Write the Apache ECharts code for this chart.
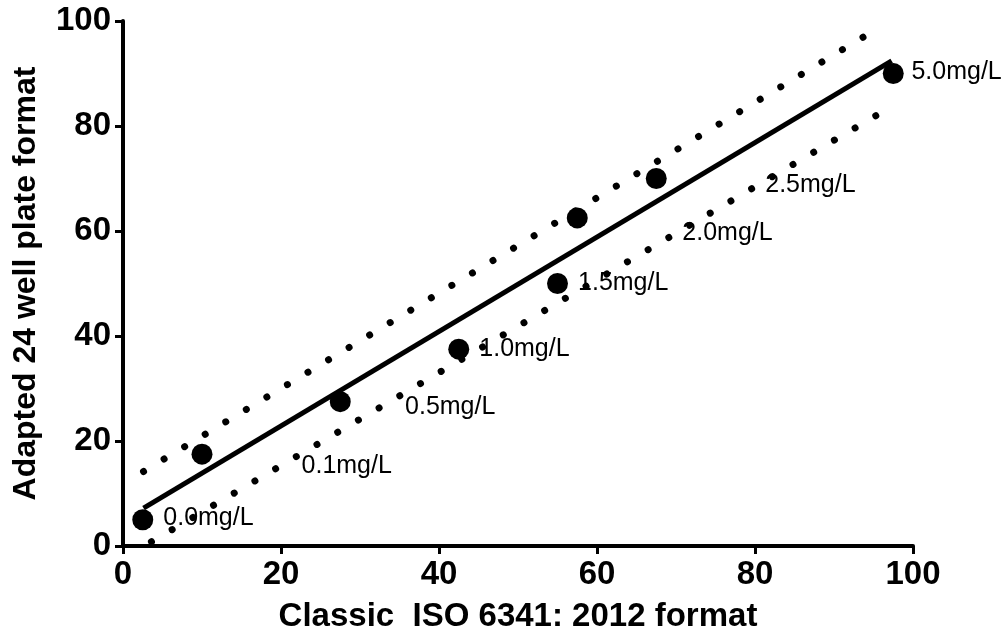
<!DOCTYPE html>
<html>
<head>
<meta charset="utf-8">
<script src="https://cdn.jsdelivr.net/npm/echarts@6/dist/echarts.min.js"></script>
<style>
  html, body { margin: 0; padding: 0; background: #fff; }
  #chart { width: 1005px; height: 641px; }
</style>
</head>
<body>
<div id="chart"></div>
<script>
// measured points (classic vs adapted)
const classicX = [2.5, 10, 27.5, 42.5, 55, 57.5, 67.5, 97.5];
const adaptedY = [5, 17.5, 27.5, 37.5, 50, 62.5, 70, 90];

// regression line and 95% band ends
const fitX = [2.6, 97.3];
const fitY = [7.2, 92.4];
const upperX = [2.6, 95.2];
const upperY = [14.2, 98.3];
const lowerX = [3.6, 96.7];
const lowerY = [0.8, 83.2];

// concentration labels (anchor in data space)
const labelText = ["0.0mg/L", "0.1mg/L", "0.5mg/L", "1.0mg/L", "1.5mg/L", "2.0mg/L", "2.5mg/L", "5.0mg/L"];
const labelX = [5.1, 22.6, 35.7, 45.1, 57.6, 70.8, 81.3, 99.8];
const labelY = [5.3, 15.2, 26.5, 37.5, 50.0, 59.6, 68.8, 90.2];

const axisTicks = [0, 20, 40, 60, 80, 100];

const zip = (xs, ys) => xs.map((x, i) => [x, ys[i]]);

const chart = echarts.init(document.getElementById("chart"));

const font = "Arial, Liberation Sans";

const axisCommon = {
  type: "value",
  min: axisTicks[0],
  max: axisTicks[axisTicks.length - 1],
  interval: 20,
  nameLocation: "middle",
  axisLine: { show: true, onZero: false, lineStyle: { color: "#000", width: 4 } },
  axisTick: { show: true, length: 8, lineStyle: { color: "#000", width: 3 } },
  axisLabel: { fontFamily: font, fontWeight: "bold", fontSize: 33, color: "#000", margin: 12 },
  splitLine: { show: false },
};

chart.setOption({
  animation: false,
  backgroundColor: "#fff",
  grid: { left: 123, right: 92, top: 21, bottom: 95 },
  xAxis: {
    ...axisCommon,
    name: "Classic  ISO 6341: 2012 format",
    nameGap: 54,
    nameTextStyle: { fontFamily: font, fontWeight: "bold", fontSize: 33, color: "#000" },
  },
  yAxis: {
    ...axisCommon,
    name: "Adapted 24 well plate format",
    nameGap: 81,
    nameTextStyle: { fontFamily: font, fontWeight: "bold", fontSize: 32, color: "#000" },
  },
  series: [
    {
      type: "line",
      data: zip(upperX, upperY),
      symbol: "none",
      lineStyle: { color: "#000", width: 7, type: [0.01, 24], cap: "round" },
    },
    {
      type: "line",
      data: zip(lowerX, lowerY),
      symbol: "none",
      lineStyle: { color: "#000", width: 7, type: [0.01, 24], cap: "round" },
    },
    {
      type: "line",
      data: zip(fitX, fitY),
      symbol: "none",
      lineStyle: { color: "#000", width: 5 },
    },
    {
      type: "scatter",
      data: zip(classicX, adaptedY),
      symbol: "circle",
      symbolSize: 21,
      itemStyle: { color: "#000", opacity: 1 },
    },
    {
      type: "scatter",
      data: labelX.map((x, i) => ({ value: [x, labelY[i]], name: labelText[i] })),
      symbolSize: 0,
      silent: true,
      itemStyle: { opacity: 1 },
      label: {
        show: true,
        position: "right",
        distance: 0,
        formatter: (p) => p.name,
        fontFamily: font,
        fontSize: 25,
        color: "#000",
      },
    },
  ],
});
</script>
</body>
</html>
